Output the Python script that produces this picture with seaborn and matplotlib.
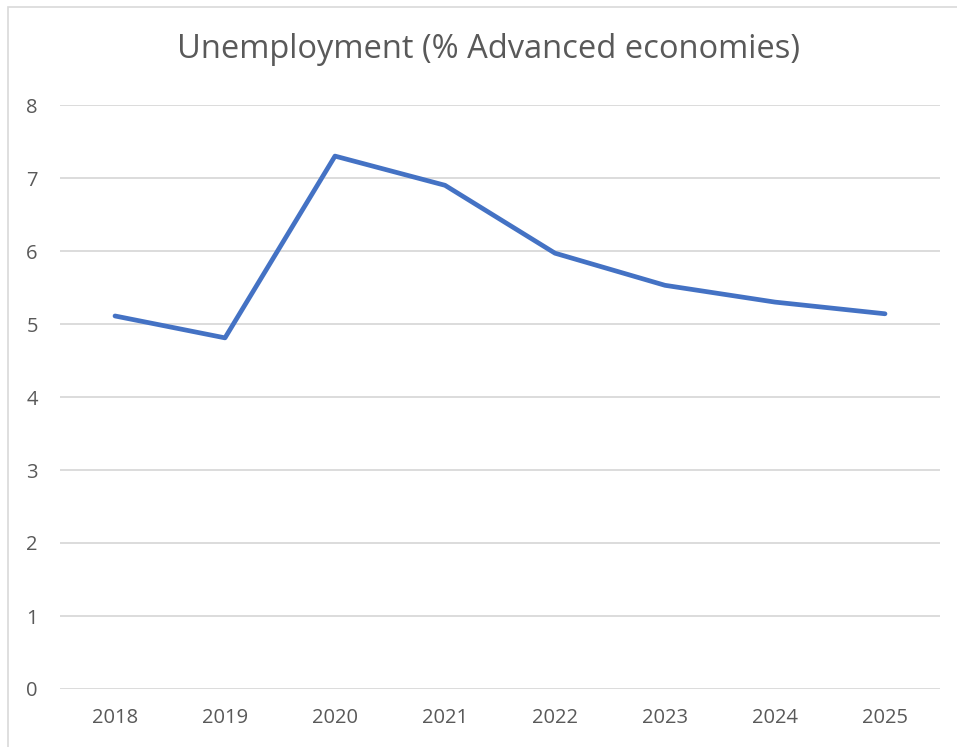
import matplotlib
matplotlib.use("Agg")
import matplotlib.pyplot as plt
import seaborn as sns
import pandas as pd
from matplotlib.patches import Rectangle

years = ["2018", "2019", "2020", "2021", "2022", "2023", "2024", "2025"]
unemployment = [5.11, 4.81, 7.30, 6.90, 5.97, 5.53, 5.30, 5.14]
y_ticks = [0, 1, 2, 3, 4, 5, 6, 7, 8]

df = pd.DataFrame({"pos": range(len(years)), "rate": unemployment})

sns.set_theme(style="white")
plt.rcParams["font.family"] = ["Open Sans", "DejaVu Sans"]

W, H = 957, 747
fig = plt.figure(figsize=(W / 100, H / 100), dpi=100)
ax = fig.add_axes([60 / W, 1 - 689 / H, 880 / W, 584 / H])

sns.lineplot(data=df, x="pos", y="rate", ax=ax, color="#4472C4",
             linewidth=3.4, solid_capstyle="round", solid_joinstyle="round")

ax.set_xlim(-0.5, len(years) - 0.5)
ax.set_ylim(0, 8)
ax.set_yticks(y_ticks)
ax.set_xticks(range(len(years)))
ax.set_xticklabels(years)
ax.yaxis.grid(True, color="#D9D9D9", linewidth=1.3)
ax.xaxis.grid(False)
for s in ax.spines.values():
    s.set_visible(False)
ax.tick_params(axis="both", length=0, labelsize=14.5, labelcolor="#595959")
ax.tick_params(axis="y", pad=16)
ax.tick_params(axis="x", pad=14)
ax.set_xlabel("")
ax.set_ylabel("")

fig.text(488 / W, 1 - 50 / H, "Unemployment (% Advanced economies)",
         ha="center", va="center", fontsize=23.5, color="#595959")

fig.patches.append(Rectangle((8 / W, -0.01), 1.0, 1 - 7 / H + 0.01,
                             transform=fig.transFigure, fill=False,
                             edgecolor="#D9D9D9", linewidth=1.2))

fig.savefig("out.png", dpi=100)
